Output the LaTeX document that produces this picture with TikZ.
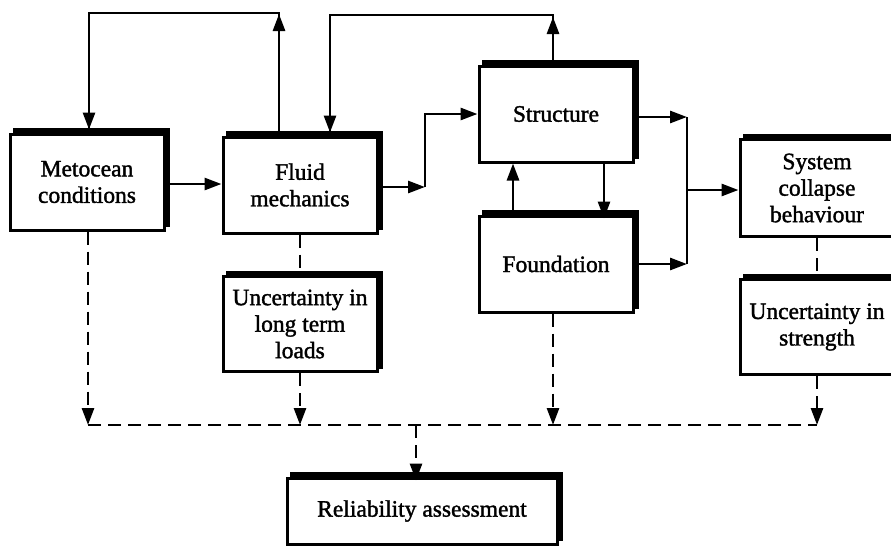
\documentclass[tikz,border=0pt]{standalone}
\usepackage{fontspec}
\setmainfont[FakeBold=1.5]{Liberation Serif}
\usetikzlibrary{arrows.meta,backgrounds,calc}
\begin{document}
\begin{tikzpicture}[x=1pt,y=-1pt,
  box/.style={draw,line width=3pt,fill=white,inner sep=0pt,align=center,
    font=\fontsize{23.5}{26.5}\selectfont,minimum width=154pt,minimum height=96pt},
  ln/.style={line width=2.8pt},
  arr/.style={line width=2.8pt,-{Triangle[length=17pt,width=12pt]}},
  dsh/.style={line width=2.8pt,dash pattern=on 13pt off 7pt},
  darr/.style={dsh,-{Triangle[length=17pt,width=12pt]}}]
\useasboundingbox (0,0) rectangle (891,546);
% boxes
\node[box] (met) at (87,182) {Metocean\\conditions};
\node[box] (flu) at (300,185) {Fluid\\mechanics};
\node[box] (str) at (556,114) {Structure};
\node[box] (fou) at (556,264) {Foundation};
\node[box,minimum width=154pt,minimum height=97pt] (sys) at (817,188) {System\\collapse\\behaviour};
\node[box,minimum width=154pt,minimum height=95pt] (uls) at (300,324) {Uncertainty in\\long term\\loads};
\node[box,minimum width=154pt,minimum height=95pt] (ust) at (817,327) {Uncertainty in\\strength};
\node[box,minimum width=270pt,minimum height=66pt] (rel) at (422,511) {Reliability assessment};
% shadows
\begin{scope}[on background layer]
\foreach \n in {met,flu,str,fou,sys,uls,ust,rel}
  \fill ([xshift=4.5pt,yshift=4.5pt]\n.south west) rectangle ([xshift=4.5pt,yshift=4.5pt]\n.north east);
\end{scope}
% coordinates
\coordinate (ta) at (279,13);
\coordinate (tb) at (89,13);
\coordinate (tc) at (553,15);
\coordinate (td) at (330,15);
\coordinate (ja) at (425,187);
\coordinate (jb) at (687,117);
\coordinate (jc) at (687,264);
\coordinate (jd) at (687,190);
\coordinate (da) at (88,425);
\coordinate (db) at (817,425);
\coordinate (dm) at (416,425);
% feedback loops
\draw[ln] (flu.north -| ta) -- (ta) -- (tb) -- (tb |- met.north);
\draw[arr] (tb) -- ([yshift=3pt]tb |- met.north);
\draw[arr] (flu.north -| ta) -- ([yshift=-1pt]ta);
\draw[ln] (str.north -| tc) -- (tc) -- (td) -- (td |- flu.north);
\draw[arr] (td) -- ([yshift=3pt]td |- flu.north);
\draw[arr] (str.north -| tc) -- ([yshift=-2pt]tc);
% main flow
\draw[arr] ([xshift=4pt]met.east |- 0,184) -- (flu.west |- 0,184);
\draw[arr] ([xshift=4pt]flu.east |- ja) -- (ja);
\draw[arr] (ja) -- (ja |- str.west) -- (str.west);
\draw[arr] ([xshift=4pt]str.east |- jb) -- (jb);
\draw[arr] ([xshift=4pt]fou.east |- jc) -- (jc);
\draw[ln] (jb) -- (jc);
\draw[arr] (jd) -- (sys.west |- jd);
\draw[arr] (fou.north -| 513,0) -- (str.south -| 513,0);
\draw[arr] (str.south -| 604,0) -- ([yshift=-4pt]fou.north -| 604,0);
% dashed
\draw[dsh] (flu.south) -- (uls.north);
\draw[dsh] (sys.south) -- (ust.north);
\draw[darr] (met.south -| da) -- (da);
\draw[darr] (uls.south) -- (uls.south |- da);
\draw[darr] (fou.south -| tc) -- (tc |- da);
\draw[darr] (ust.south) -- (db);
\draw[dsh] (da) -- (db);
\draw[darr] (dm) -- ([yshift=-4pt]dm |- rel.north);
\end{tikzpicture}
\end{document}
